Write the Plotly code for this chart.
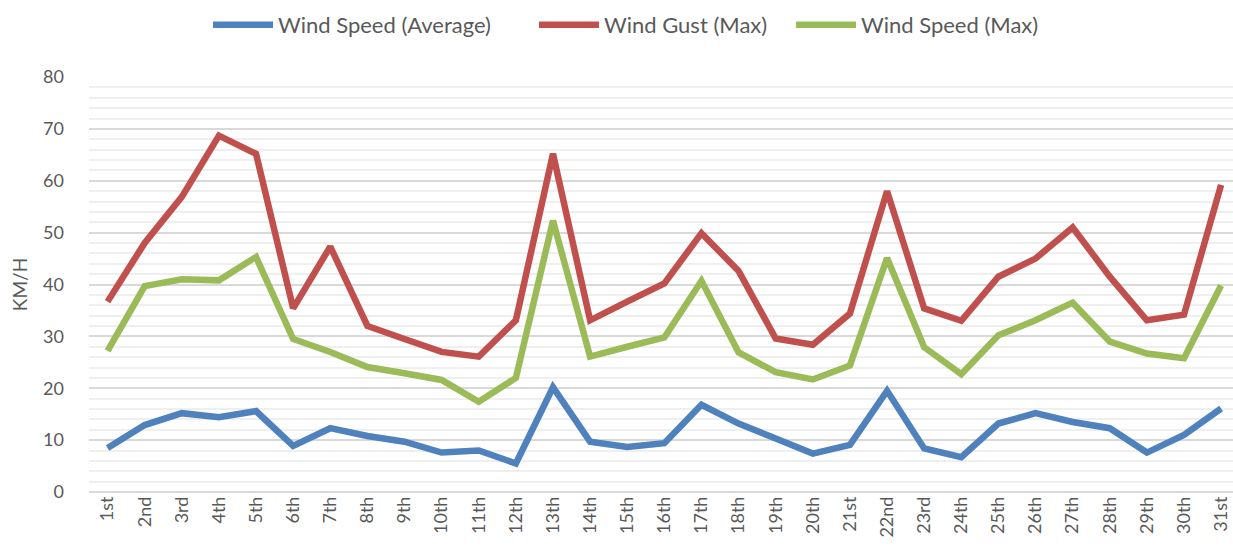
import plotly.graph_objects as go

days = ["1st","2nd","3rd","4th","5th","6th","7th","8th","9th","10th",
        "11th","12th","13th","14th","15th","16th","17th","18th","19th","20th",
        "21st","22nd","23rd","24th","25th","26th","27th","28th","29th","30th","31st"]

wind_avg = [8.5, 12.9, 15.2, 14.4, 15.6, 8.9, 12.3, 10.8, 9.7, 7.6,
            8.0, 5.5, 20.2, 9.7, 8.7, 9.4, 16.8, 13.2, 10.3, 7.4,
            9.1, 19.5, 8.4, 6.7, 13.2, 15.2, 13.5, 12.3, 7.6, 11.0, 16.1]

gust_max = [36.7, 48.0, 56.9, 68.7, 65.2, 35.4, 47.3, 32.0, 29.5, 27.0,
            26.1, 33.1, 65.2, 33.1, 36.7, 40.2, 49.9, 42.6, 29.6, 28.4,
            34.4, 58.0, 35.4, 33.0, 41.5, 45.0, 51.0, 41.5, 33.1, 34.2, 59.2]

speed_max = [27.2, 39.7, 41.0, 40.8, 45.3, 29.5, 27.0, 24.1, 22.9, 21.6,
             17.4, 22.0, 52.3, 26.1, 28.0, 29.8, 40.7, 26.9, 23.1, 21.7,
             24.4, 45.1, 27.9, 22.7, 30.2, 33.1, 36.5, 29.0, 26.7, 25.8, 39.8]

series = [
    ("Wind Speed (Average)", wind_avg, "#4F81BD", "legend"),
    ("Wind Gust (Max)", gust_max, "#C0504D", "legend2"),
    ("Wind Speed (Max)", speed_max, "#9BBB59", "legend3"),
]

FONT = "Lato, 'Open Sans', sans-serif"
W, H = 1233, 550

fig = go.Figure()
for name, vals, col, lg in series:
    fig.add_trace(go.Scatter(
        x=list(range(len(days))), y=vals, name=name, mode="lines",
        line=dict(color=col, width=6.5, shape="linear"), legend=lg,
    ))

def legend_at(px_left):
    return dict(orientation="h", xref="container", yref="container",
                x=px_left / W, xanchor="left", y=1 - 25 / H, yanchor="middle",
                font=dict(size=22, color="#595959"), itemwidth=60,
                bgcolor="rgba(0,0,0,0)", borderwidth=0)

fig.update_layout(
    width=W, height=H,
    margin=dict(l=89, r=0, t=77, b=58),
    paper_bgcolor="white", plot_bgcolor="white",
    font=dict(family=FONT, color="#595959", size=17),
    showlegend=True,
    legend=legend_at(208),
    legend2=legend_at(534),
    legend3=legend_at(791),
    xaxis=dict(
        tickmode="array", tickvals=list(range(len(days))), ticktext=days,
        tickangle=-90, range=[-0.5, 30.32], showgrid=False, zeroline=False,
        showline=False, ticks="", tickfont=dict(size=18, color="#595959"),
        ticklabeloverflow="allow", automargin=False,
    ),
    yaxis=dict(
        range=[0, 80], dtick=10, showgrid=True, gridcolor="#d9d9d9", gridwidth=1.5,
        zeroline=True, zerolinecolor="#d9d9d9", zerolinewidth=1.5,
        showline=False, ticks="", tickfont=dict(size=18, color="#595959"),
        ticklabelstandoff=24,
        title=dict(text="KM/H", font=dict(size=19, color="#595959"), standoff=10),
        minor=dict(dtick=2, showgrid=True, gridcolor="#efefef", gridwidth=1.5),
        automargin=False,
    ),
)

fig.write_html("out.html", config={"displayModeBar": False},
               post_script="document.body.style.margin='0';document.body.style.overflow='hidden';")
